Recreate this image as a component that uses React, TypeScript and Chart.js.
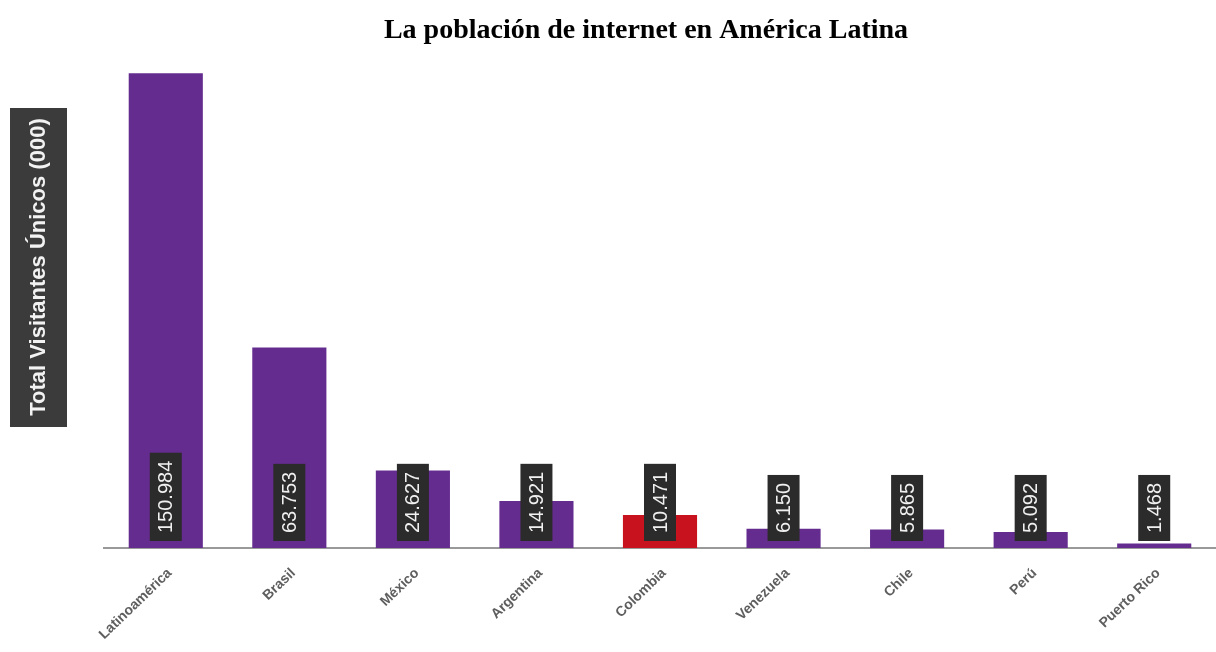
import React, { useEffect, useRef } from "react";
import { Chart, registerables } from "chart.js";

Chart.register(...registerables);

const TITLE = "La población de internet en América Latina";
const Y_TITLE = "Total Visitantes Únicos (000)";
const categories = [
  "Latinoamérica",
  "Brasil",
  "México",
  "Argentina",
  "Colombia",
  "Venezuela",
  "Chile",
  "Perú",
  "Puerto Rico",
];
const visitors = [150984, 63753, 24627, 14921, 10471, 6150, 5865, 5092, 1468];
const highlight = "Colombia";

const PURPLE = "#652c90";
const RED = "#c8121d";

function fmt(v: number): string {
  const s = String(Math.round(v));
  return s.replace(/\B(?=(\d{3})+(?!\d))/g, ".");
}

const decorPlugin = {
  id: "decor",
  afterDatasetsDraw(chart: any) {
    const ctx = chart.ctx;
    const xs = chart.scales.x;
    const ys = chart.scales.y;
    const base = ys.getPixelForValue(0);
    ctx.save();
    // title
    ctx.fillStyle = "#000";
    ctx.font = "bold 28px 'Liberation Serif', 'Times New Roman', serif";
    ctx.textAlign = "center";
    ctx.textBaseline = "middle";
    ctx.fillText(TITLE, chart.width / 2 + 38, 31);

    // y title box
    ctx.fillStyle = "#3b3b3b";
    ctx.fillRect(10, 108, 57, 319);
    ctx.save();
    ctx.translate(39, 267);
    ctx.rotate(-Math.PI / 2);
    ctx.fillStyle = "#f2f2f2";
    ctx.font = "bold 22px 'Liberation Sans', Arial, sans-serif";
    ctx.textAlign = "center";
    ctx.textBaseline = "middle";
    ctx.fillText(Y_TITLE, 0, 0);
    ctx.restore();

    // value labels
    ctx.font = "20px 'Liberation Sans', Arial, sans-serif";
    const meta = chart.getDatasetMeta(0);
    meta.data.forEach((bar: any, i: number) => {
      const txt = fmt(visitors[i]);
      const w = ctx.measureText(txt).width;
      const pad = 8;
      const h = w + pad * 2;
      const bw = 32;
      const bottom = base - 7;
      ctx.fillStyle = "#2b2b2b";
      ctx.fillRect(bar.x - bw / 2, bottom - h, bw, h);
      ctx.save();
      ctx.translate(bar.x + 1, bottom - h / 2);
      ctx.rotate(-Math.PI / 2);
      ctx.fillStyle = "#f0f0f0";
      ctx.textAlign = "center";
      ctx.textBaseline = "middle";
      ctx.fillText(txt, 0, 0);
      ctx.restore();
    });

    // x labels
    ctx.font = "bold 14px 'Liberation Sans', Arial, sans-serif";
    ctx.fillStyle = "#5e5e5e";
    categories.forEach((c, i) => {
      const x = xs.getPixelForValue(i);
      ctx.save();
      ctx.translate(x + 4, base + 23);
      ctx.rotate((-44 * Math.PI) / 180);
      ctx.textAlign = "right";
      ctx.textBaseline = "middle";
      ctx.fillText(c, 0, 0);
      ctx.restore();
    });
    ctx.restore();
  },
};

export default function App() {
  const ref = useRef<HTMLCanvasElement | null>(null);
  useEffect(() => {
    if (!ref.current) return;
    const chart = new Chart(ref.current, {
      type: "bar",
      data: {
        labels: categories,
        datasets: [
          {
            data: visitors,
            backgroundColor: categories.map((c) => (c === highlight ? RED : PURPLE)),
            borderWidth: 0,
            categoryPercentage: 1,
            barPercentage: 0.6,
          },
        ],
      },
      options: {
        animation: false,
        responsive: false,
        layout: { padding: { left: 104, right: 0, top: 45, bottom: 96 } },
        plugins: { legend: { display: false }, tooltip: { enabled: false }, title: { display: false } },
        scales: {
          x: {
            grid: { display: false },
            ticks: { display: false },
            border: { display: true, color: "#999999", width: 2 },
          },
          y: {
            display: false,
            min: 0,
            max: 160000,
          },
        },
      },
      plugins: [decorPlugin],
    });
    return () => chart.destroy();
  }, []);
  return (
    <div style={{ position: "absolute", left: 0, top: 0, width: 1216, height: 652, background: "#fff" }}>
      <canvas ref={ref} width={1216} height={652} />
    </div>
  );
}
